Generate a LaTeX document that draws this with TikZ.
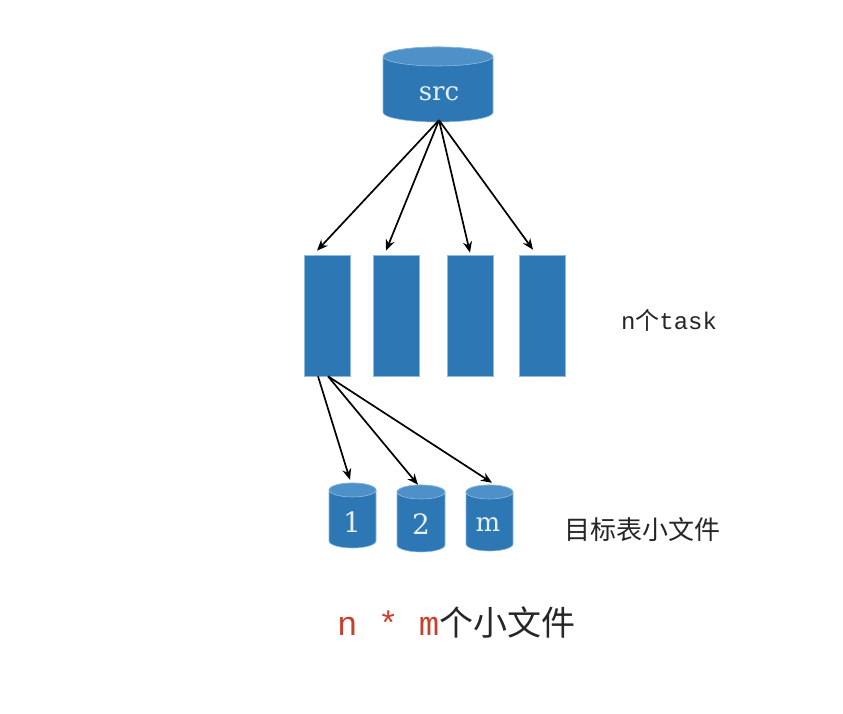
\documentclass[tikz,border=0pt]{standalone}
\usepackage{fontspec}
\usetikzlibrary{arrows.meta,calc}
\newfontfamily\lat{Liberation Mono}
\newfontfamily\ser{DejaVu Serif}
\newfontfamily\cjk{Noto Sans CJK SC}
\definecolor{bodyblue}{HTML}{2C77B4}
\definecolor{topblue}{HTML}{4E90C8}
\definecolor{edgeblue}{HTML}{8DBBE0}
\definecolor{txtlight}{HTML}{E4F1FB}
\definecolor{redtxt}{HTML}{C8412F}
\tikzset{
  cylbody/.style={fill=bodyblue,draw=edgeblue,line width=0.6pt},
  cyltop/.style={fill=topblue,draw=edgeblue,line width=0.6pt},
  cyltext/.style={text=txtlight,font=\ser,inner sep=0pt},
  taskbox/.style={fill=bodyblue,draw=edgeblue,line width=0.6pt,minimum width=46pt,minimum height=121pt,inner sep=0pt},
  arr/.style={-{Stealth[length=11pt,width=9pt]},line width=1.7pt,black},
  lbl/.style={text=black!85,inner sep=0pt}
}
% #1 name, #2 cx, #3 cy, #4 half width, #5 half height, #6 ry
\newcommand\mycyl[6]{%
  \begin{scope}[shift={(#2,#3)}]
    \fill[cylbody] (-#4,#5-#6) -- (-#4,-#5+#6) arc[start angle=180,end angle=360,x radius=#4,y radius=#6] -- (#4,#5-#6) arc[start angle=0,end angle=180,x radius=#4,y radius=#6] -- cycle;
    \path[cyltop] (0,#5-#6) ellipse[x radius=#4,y radius=#6];
    \node[inner sep=0pt,minimum width=2*#4,minimum height=2*#5] (#1) at (0,0) {};
  \end{scope}}
\begin{document}
\begin{tikzpicture}[x=1pt,y=1pt]
\useasboundingbox[fill=white] (0,0) rectangle (843,714);
% source cylinder
\mycyl{src}{438}{629.5}{55}{37.5}{9.5}
\node[cyltext,font=\ser\fontsize{26}{26}\selectfont] (srct) at (439,620) {src};
% tasks
\node[taskbox] (t1) at (327.5,398.5) {};
\node[taskbox] (t2) at (396,398.5) {};
\node[taskbox] (t3) at (470.5,398.5) {};
\node[taskbox] (t4) at (542,398.5) {};
% target cylinders
\mycyl{c1}{352.5}{198.5}{23.5}{32.5}{7}
\mycyl{c2}{421}{195.5}{24}{33.5}{7}
\mycyl{c3}{489.5}{196}{23.5}{33}{7}
\node[cyltext,font=\ser\fontsize{28}{28}\selectfont] (c1t) at (352,192) {1};
\node[cyltext,font=\ser\fontsize{28}{28}\selectfont] (c2t) at (421,190) {2};
\node[cyltext,font=\ser\fontsize{26}{26}\selectfont] (c3t) at (488,189) {m};
% arrows from src
\coordinate (s0) at ($(src.south)+(1,2)$);
\draw[arr] (s0) -- ($(t1.north)+(-10.5,4)$);
\draw[arr] (s0) -- ($(t2.north)+(-10,4)$);
\draw[arr] (s0) -- ($(t3.north)+(-0.5,2)$);
\draw[arr] (s0) -- ($(t4.north)+(-9,5)$);
% arrows from task 1
\coordinate (b1) at ($(t1.south)+(-9.5,0)$);
\coordinate (b2) at ($(t1.south)+(0.5,0)$);
\draw[arr] (b1) -- ($(c1.north)+(-2.5,3)$);
\draw[arr] (b2) -- ($(c2.north)+(-3,0)$);
\draw[arr] (b2) -- ($(c3.north)+(2.5,2)$);
% labels
\node[lbl,font=\fontsize{24}{24}\selectfont] (ntask) at (669,394) {{\lat n}{\cjk 个}{\lat task}};
\node[lbl,font=\cjk\fontsize{26}{26}\selectfont] (tgt) at (642,184) {目标表小文件};
\node[lbl,font=\fontsize{34}{34}\selectfont,anchor=west] (nm) at (337,92) {{\lat\color{redtxt}n * m}{\cjk 个小文件}};
\end{tikzpicture}
\end{document}
